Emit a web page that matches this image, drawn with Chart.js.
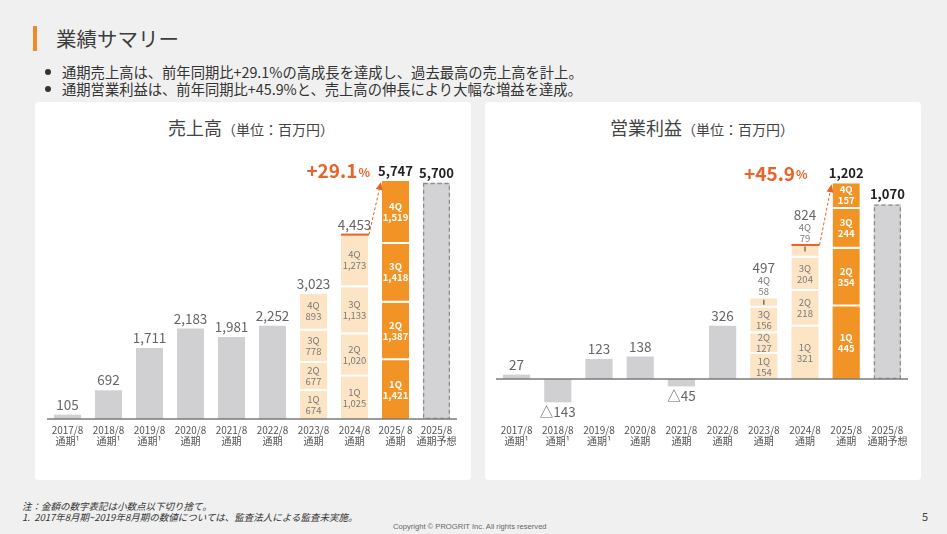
<!DOCTYPE html>
<html><head><meta charset="utf-8">
<script src="https://cdn.jsdelivr.net/npm/chart.js@4.4.1/dist/chart.umd.min.js"></script>
<style>
html,body{margin:0;padding:0;}
body{width:947px;height:534px;background:#f0f0f0;position:relative;overflow:hidden;font-family:"Noto Sans CJK JP","Noto Sans",sans-serif;color:#333;}
.abs{position:absolute;white-space:nowrap;}
#obar{left:33px;top:26px;width:4px;height:25px;background:#ef8a26;}
#title{left:56px;top:23px;font-size:20.5px;color:#3c3c3c;line-height:30px;}
.bul{left:62px;font-size:14.3px;line-height:17px;color:#333;}
.dot{left:45px;width:6px;height:6px;border-radius:50%;background:#333;}
.panel{top:102px;width:436px;height:378px;background:#fff;border-radius:4px;}
.ctitle{top:115px;font-size:18px;line-height:24px;color:#444;}
.ctitle span{font-size:14px;}
canvas{position:absolute;}
.note{left:22px;font-size:9.5px;font-style:italic;color:#333;line-height:12px;}
</style>
</head><body>
<div id="obar" class="abs"></div>
<div id="title" class="abs">業績サマリー</div>
<div class="abs dot" style="top:69px"></div>
<div class="abs bul" style="top:63px">通期売上高は、前年同期比+29.1%の高成長を達成し、過去最高の売上高を計上。</div>
<div class="abs dot" style="top:86px"></div>
<div class="abs bul" style="top:80px">通期営業利益は、前年同期比+45.9%と、売上高の伸長により大幅な増益を達成。</div>

<div class="abs panel" style="left:35px"></div>
<div class="abs panel" style="left:485px"></div>
<div class="abs ctitle" style="left:168px">売上高<span>（単位：百万円）</span></div>
<div class="abs ctitle" style="left:610px">営業利益<span>（単位：百万円）</span></div>

<canvas id="sales" width="435" height="378" style="left:35px;top:103px;width:435px;height:378px"></canvas>
<canvas id="profit" width="435" height="378" style="left:485px;top:103px;width:435px;height:378px"></canvas>

<div class="abs note" style="top:500px">注：金額の数字表記は小数点以下切り捨て。</div>
<div class="abs note" style="top:511px">1.&nbsp;&nbsp;2017年8月期~2019年8月期の数値については、監査法人による監査未実施。</div>
<div class="abs" style="left:393px;top:522px;font-family:'Liberation Sans',sans-serif;font-size:7.6px;color:#666;">Copyright © PROGRIT Inc. All rights reserved</div>
<div class="abs" style="left:922px;top:508px;font-size:11px;color:#444;">5</div>

<script>
// ---------- data ----------
const salesCategories = [['2017/8','通期¹'],['2018/8','通期¹'],['2019/8','通期¹'],['2020/8','通期'],['2021/8','通期'],['2022/8','通期'],['2023/8','通期'],['2024/8','通期'],['2025/ 8','通期'],['2025/8','通期予想']];
const profitCategories = [['2017/8','通期¹'],['2018/8','通期¹'],['2019/8','通期¹'],['2020/8','通期'],['2021/8','通期'],['2022/8','通期'],['2023/8','通期'],['2024/8','通期'],['2025/8','通期'],['2025/8','通期予想']];
const quarterNames = ['1Q','2Q','3Q','4Q'];

const salesAnnual   = [105, 692, 1711, 2183, 1981, 2252, null, null, null, null];
const salesQ1       = [null, null, null, null, null, null, 674, 1025, 1421, null];
const salesQ2       = [null, null, null, null, null, null, 677, 1020, 1387, null];
const salesQ3       = [null, null, null, null, null, null, 778, 1133, 1418, null];
const salesQ4       = [null, null, null, null, null, null, 893, 1273, 1519, null];
const salesForecast = [null, null, null, null, null, null, null, null, null, 5700];
const salesTotals   = [105, 692, 1711, 2183, 1981, 2252, 3023, 4453, 5747, 5700];
const salesGrowth   = '+29.1';

const profitAnnual   = [27, -143, 123, 138, -45, 326, null, null, null, null];
const profitQ1       = [null, null, null, null, null, null, 154, 321, 445, null];
const profitQ2       = [null, null, null, null, null, null, 127, 218, 354, null];
const profitQ3       = [null, null, null, null, null, null, 156, 204, 244, null];
const profitQ4       = [null, null, null, null, null, null, 58, 79, 157, null];
const profitForecast = [null, null, null, null, null, null, null, null, null, 1070];
const profitTotals   = [27, -143, 123, 138, -45, 326, 497, 824, 1202, 1070];
const profitGrowth   = '+45.9';

// ---------- style ----------
const FONT = '"Noto Sans CJK JP", "Noto Sans", sans-serif';
const GREY = '#d0d0d3', PEACH = '#fce4c4', ORANGE = '#f29325', RED = '#e8622a';
const qColors = [GREY, GREY, GREY, GREY, GREY, GREY, PEACH, PEACH, ORANGE, GREY];

const fmt = v => v.toLocaleString('en-US');

function line(ctx, x1, y1, x2, y2) { ctx.beginPath(); ctx.moveTo(x1, y1); ctx.lineTo(x2, y2); ctx.stroke(); }

const overlay = {
  id: 'overlay',
  afterDatasetsDraw(chart) {
    const o = chart.options.plugins.overlay;
    const ctx = chart.ctx, ys = chart.scales.y, a = chart.chartArea;
    const m = i => chart.getDatasetMeta(i).data;
    ctx.save();
    // forecast dashed outline
    const f = m(5)[9];
    ctx.setLineDash([4, 3]); ctx.strokeStyle = '#8c8c8c'; ctx.lineWidth = 1.3;
    ctx.strokeRect(f.x - f.width / 2 + 0.65, f.y + 0.65, f.width - 1.3, f.base - f.y - 1.3);
    ctx.setLineDash([]);
    // zero line
    const y0 = ys.getPixelForValue(0);
    ctx.strokeStyle = '#7b7b7b'; ctx.lineWidth = 1.5;
    line(ctx, a.left, y0, a.right, y0);

    ctx.textAlign = 'center'; ctx.textBaseline = 'middle';
    // annual labels
    ctx.font = `13.5px ${FONT}`; ctx.fillStyle = '#666';
    for (let i = 0; i < 6; i++) {
      const el = m(0)[i], v = o.totals[i];
      if (v >= 0) ctx.fillText(fmt(v), el.x, el.y - 10);
      else ctx.fillText('△' + fmt(-v), el.x, el.y + 10);
    }
    // stacked previous years
    for (const i of [6, 7]) {
      const top = m(4)[i].y;
      ctx.font = `13.5px ${FONT}`; ctx.fillStyle = '#666';
      if (o.q4Above) {
        ctx.fillText(fmt(o.totals[i]), m(4)[i].x, top - 30);
        ctx.font = `9.5px ${FONT}`; ctx.fillStyle = '#7a7a7a';
        ctx.fillText(quarterNames[3], m(4)[i].x, top - 18);
        ctx.fillText(fmt(o.q[3][i]), m(4)[i].x, top - 7);
        ctx.strokeStyle = '#555'; ctx.lineWidth = 1.2;
        line(ctx, m(4)[i].x, top + 1.5, m(4)[i].x, top + 6.5);
      } else {
        ctx.fillText(fmt(o.totals[i]), m(4)[i].x, top - 10);
      }
    }
    // segment labels
    for (let k = 0; k < 4; k++) {
      for (const i of [6, 7, 8]) {
        if (o.q4Above && k === 3 && i < 8) continue;
        const el = m(k + 1)[i];
        const cy = (el.y + el.base - (k > 0 ? 2 : 0)) / 2;
        if (i === 8) { ctx.font = `bold 9.5px ${FONT}`; ctx.fillStyle = '#fff'; }
        else { ctx.font = `9.5px ${FONT}`; ctx.fillStyle = '#7a7a7a'; }
        ctx.fillText(quarterNames[k], el.x, cy - 5.5);
        ctx.fillText(fmt(o.q[k][i]), el.x, cy + 5.5);
      }
    }
    // current year & forecast totals
    const c = m(4)[8];
    ctx.font = `bold 13px ${FONT}`; ctx.fillStyle = '#222';
    ctx.fillText(fmt(o.totals[8]), c.x, c.y - 10);
    ctx.fillText(fmt(o.totals[9]), f.x, f.y - 10);
    // growth label
    ctx.fillStyle = RED; ctx.textAlign = 'right';
    let gx = c.x - c.width / 2 - o.growthGap;
    ctx.font = `bold 12px ${FONT}`;
    ctx.fillText('%', gx, c.y - 9);
    gx -= ctx.measureText('%').width + 1;
    ctx.font = `bold 19px ${FONT}`;
    ctx.fillText(o.growth, gx, c.y - 10);
    // previous top line
    const p = m(4)[7];
    ctx.strokeStyle = RED; ctx.lineWidth = 2;
    line(ctx, p.x - p.width / 2, p.y, p.x + p.width / 2 + 1, p.y);
    // arrow
    const sx = p.x + p.width / 2 + 1, sy = p.y;
    const ex = c.x - c.width / 2 - 1, ey = c.y + 1;
    const ang = Math.atan2(ey - sy, ex - sx);
    const L = 8, W = 3.5;
    const bx = ex - L * Math.cos(ang), by = ey - L * Math.sin(ang);
    ctx.lineWidth = 1; ctx.setLineDash([3, 2]);
    line(ctx, sx, sy, bx, by);
    ctx.setLineDash([]);
    ctx.fillStyle = RED;
    ctx.beginPath();
    ctx.moveTo(ex, ey);
    ctx.lineTo(bx + W * Math.sin(ang), by - W * Math.cos(ang));
    ctx.lineTo(bx - W * Math.sin(ang), by + W * Math.cos(ang));
    ctx.closePath(); ctx.fill();
    ctx.restore();
  }
};

function makeChart(id, cats, annual, qs, forecast, totals, growth, cfg) {
  const datasets = [{ data: annual, backgroundColor: GREY }];
  qs.forEach((q, k) => datasets.push({
    data: q, backgroundColor: qColors, borderColor: '#fff',
    borderWidth: k > 0 ? { top: 0, left: 0, right: 0, bottom: 2 } : 0,
    borderSkipped: false
  }));
  datasets.push({ data: forecast, backgroundColor: '#d3d3d6' });
  return new Chart(document.getElementById(id), {
    type: 'bar',
    data: { labels: cats, datasets },
    plugins: [overlay],
    options: {
      responsive: false, animation: false, devicePixelRatio: 1,
      layout: { padding: cfg.padding },
      datasets: { bar: { barPercentage: 0.66, categoryPercentage: 1.0 } },
      plugins: {
        legend: { display: false }, tooltip: { enabled: false },
        overlay: { totals, growth, q: qs, q4Above: cfg.q4Above, growthGap: cfg.growthGap }
      },
      scales: {
        x: {
          stacked: true,
          grid: { display: false, drawTicks: false },
          border: { display: false },
          ticks: { font: { size: 10, family: FONT, lineHeight: 1.15 }, color: '#555', padding: cfg.tickPad, maxRotation: 0, autoSkip: false },
          afterFit: s => { s.height = 40; }
        },
        y: { stacked: true, display: false, min: cfg.min, max: cfg.max }
      }
    }
  });
}

makeChart('sales', salesCategories, salesAnnual, [salesQ1, salesQ2, salesQ3, salesQ4], salesForecast, salesTotals, salesGrowth,
  { padding: { left: 12, right: 13, top: 26, bottom: 22 }, min: 0, max: 7000, q4Above: false, growthGap: 12, tickPad: 5 });
makeChart('profit', profitCategories, profitAnnual, [profitQ1, profitQ2, profitQ3, profitQ4], profitForecast, profitTotals, profitGrowth,
  { padding: { left: 11, right: 12, top: 26, bottom: 23 }, min: -239, max: 1533, q4Above: true, growthGap: 25, tickPad: 6 });
</script>
</body></html>
